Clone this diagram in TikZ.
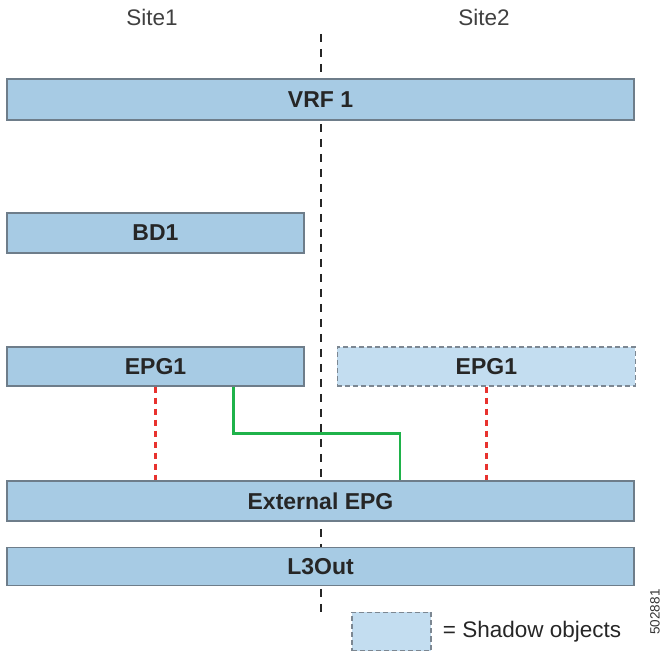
\documentclass[tikz,border=0pt]{standalone}
\usepackage{fontspec}
\setmainfont{Liberation Sans}
\usetikzlibrary{positioning}
\definecolor{objfill}{HTML}{A7CBE4}
\definecolor{objedge}{HTML}{6E7D8A}
\definecolor{shadowfill}{HTML}{C3DDF0}
\definecolor{shadowedge}{HTML}{7C8792}
\definecolor{linkgreen}{HTML}{1FB24A}
\definecolor{linkred}{HTML}{E8322E}
\tikzset{
  objbox/.style    = {draw=objedge, line width=1.4pt, fill=objfill,
                      minimum height=40pt, inner sep=0pt,
                      font=\fontsize{23}{26}\selectfont\bfseries, text=black!85},
  shadowbox/.style = {objbox, draw=shadowedge, fill=shadowfill,
                      dash pattern=on 5pt off 3pt},
  sitelbl/.style   = {font=\fontsize{22.5}{26}\selectfont, text=black!75,
                      inner sep=0pt},
  legendlbl/.style = {font=\fontsize{22.5}{26}\selectfont, text=black!85,
                      inner sep=0pt},
  codelbl/.style   = {font=\fontsize{13.5}{15}\selectfont, text=black!80,
                      inner sep=0pt},
  sitediv/.style   = {line width=1.8pt, black!85, dash pattern=on 8pt off 7pt},
  bindline/.style  = {linkred, line width=2.8pt, dash pattern=on 6pt off 5pt},
  l3line/.style    = {linkgreen, line width=2.6pt}
}

\begin{document}
\begin{tikzpicture}[x=1pt, y=-1pt]
  \useasboundingbox (0,0) rectangle (665,652);

  % site divider
  \coordinate (divtop) at (321,34);
  \coordinate (divbot) at (321,616);
  \draw[sitediv] (divtop) -- (divbot);

  \node[sitelbl, anchor=base] (site1) at (152,26) {Site1};
  \node[sitelbl, anchor=base] (site2) at (484,26) {Site2};

  \node[objbox, minimum width=627pt, minimum height=41pt] (vrf) at (320.5,99.5) {VRF 1};
  \node[objbox, minimum width=297pt] (bd)   at (155.5,233) {BD1};
  \node[objbox, minimum width=297pt, minimum height=39pt] (epga) at (155.5,366.5) {EPG1};
  \node[shadowbox, minimum width=298pt, minimum height=39pt, right=32pt of epga] (epgb) {EPG1};

  \node[objbox, minimum width=627pt] (extepg) at (320.5,501) {External EPG};
  \node[objbox, minimum width=627pt, minimum height=38pt, below=25pt of extepg] (l3out) {L3Out};

  \draw[bindline] (epga.south) -- (epga.south |- extepg.north);
  \draw[bindline] (epgb.south) -- (epgb.south |- extepg.north);
  \draw[l3line] ([xshift=78pt]epga.south) |- ([xshift=79.5pt, yshift=47pt]extepg.north)
                -- ([xshift=79.5pt]extepg.north);

  % legend
  \node[shadowbox, minimum width=79pt, minimum height=38pt] (legend) at (391.5,631.5) {};
  \node[legendlbl, anchor=west] (legendtxt) at ([xshift=11pt]legend.east) {= Shadow objects};
  \node[codelbl, rotate=90] (figid) at (655,612) {502881};
\end{tikzpicture}
\end{document}
